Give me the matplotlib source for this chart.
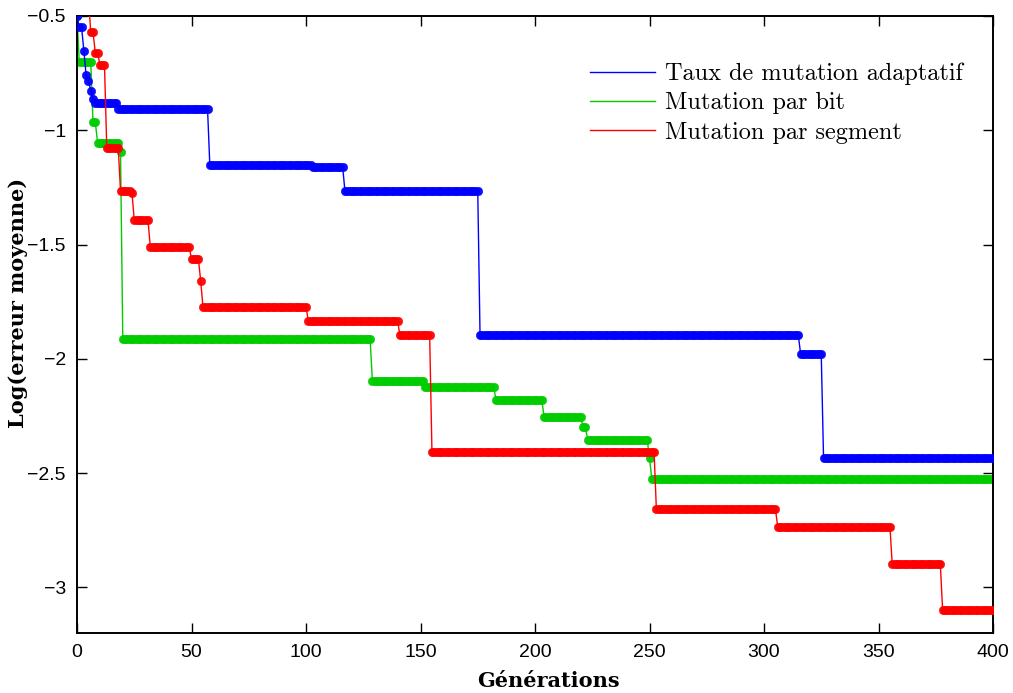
import numpy as np
import matplotlib
matplotlib.use("Agg")
import matplotlib.pyplot as plt
from matplotlib.ticker import FuncFormatter

# generation at which each level starts, and the level (log of mean error)
n_gen = 400

blue_start = [0, 1, 3, 4, 5, 6, 7, 8, 18, 58, 103, 117, 176, 316, 326]
blue_level = [-0.50, -0.55, -0.652, -0.76, -0.783, -0.827, -0.862, -0.88, -0.905,
              -1.153, -1.160, -1.265, -1.898, -1.98, -2.434]

green_start = [0, 1, 7, 9, 19, 20, 129, 152, 183, 204, 221, 223, 250, 251]
green_level = [-0.50, -0.703, -0.966, -1.055, -1.095, -1.914, -2.099, -2.124,
               -2.182, -2.256, -2.30, -2.354, -2.435, -2.524]

red_start = [0, 6, 8, 10, 13, 19, 24, 25, 32, 50, 54, 55, 101, 141, 155, 253, 306, 356, 378]
red_level = [-0.42, -0.571, -0.662, -0.713, -1.076, -1.265, -1.274, -1.393, -1.51,
             -1.563, -1.658, -1.772, -1.833, -1.898, -2.406, -2.659, -2.735, -2.90, -3.099]

labels = ["Taux de mutation adaptatif", "Mutation par bit", "Mutation par segment"]
colors = ["#0000ff", "#00cc00", "#ff0000"]


def expand(starts, levels):
    # one value per generation, held until the next change
    dur = np.diff(starts + [n_gen + 1])
    return np.repeat(levels, dur)


gens = np.arange(n_gen + 1)
series = [expand(blue_start, blue_level),
          expand(green_start, green_level),
          expand(red_start, red_level)]

fig = plt.figure(figsize=(10.13, 6.93), dpi=100)
ax = fig.add_axes([77 / 1013, 1 - 633 / 693, 916 / 1013, 617 / 693])

handles = []
for y, c, lab, z in zip(series, colors, labels, [3, 2, 4]):
    h, = ax.plot(gens, y, color=c, lw=1.0, label=lab, zorder=z)
    ax.plot(gens, y, ls="none", marker="o", ms=6, mec=c, mew=0.4, mfc=c,
            alpha=0.95, zorder=z)
    handles.append(h)

ax.set_xlim(0, 400)
ax.set_ylim(-3.2, -0.5)
ax.set_xticks(np.arange(0, 401, 50))
ax.set_yticks(np.arange(-3, -0.49, 0.5))
ax.yaxis.set_major_formatter(FuncFormatter(lambda v, p: ("%g" % v).replace("-", "\u2212")))

for lab in ax.get_xticklabels() + ax.get_yticklabels():
    lab.set_fontfamily("Liberation Sans")
    lab.set_fontsize(14)
ax.tick_params(direction="in", length=7, width=1, top=True, right=True, pad=8)
for s in ax.spines.values():
    s.set_linewidth(1.4)

ax.set_xlabel("Générations", family="DejaVu Serif", fontweight="bold", fontsize=15)
ax.set_ylabel("Log(erreur moyenne)", family="DejaVu Serif", fontweight="bold", fontsize=15)
ax.xaxis.set_label_coords(0.515, -0.062)
ax.yaxis.set_label_coords(-0.054, 0.535)

leg = ax.legend(handles=handles, loc="upper right", frameon=False,
                prop={"family": "cmr10", "size": 17.5}, handlelength=2.7,
                handletextpad=0.4, labelspacing=0.3,
                bbox_to_anchor=(0.991, 0.96))

fig.savefig("out.png", dpi=100)
